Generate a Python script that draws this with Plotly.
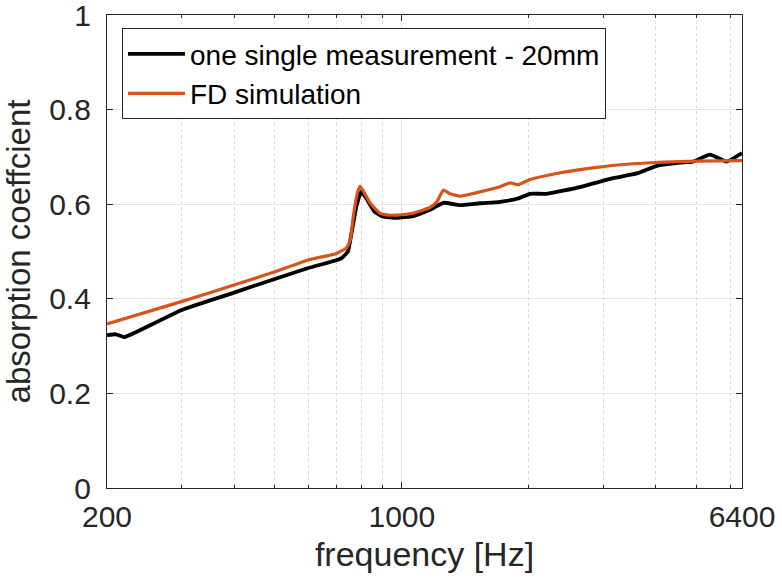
import plotly.graph_objects as go

# ---- data ----
freq_meas = [200, 210, 220, 235, 300, 400, 500, 600, 690, 720, 745, 760, 780, 800,
             820, 860, 900, 972, 1063, 1166, 1254, 1373, 1531, 1708, 1885, 2012,
             2204, 2643, 3165, 3602, 4018, 4563, 4897, 5375, 5886, 6400]
alpha_meas = [0.323, 0.325, 0.319, 0.330, 0.376, 0.413, 0.442, 0.465, 0.480, 0.486,
              0.500, 0.540, 0.595, 0.626, 0.615, 0.585, 0.574, 0.571, 0.575, 0.588,
              0.603, 0.598, 0.602, 0.605, 0.612, 0.622, 0.622, 0.636, 0.655, 0.665,
              0.681, 0.688, 0.690, 0.705, 0.690, 0.708]

freq_sim = [200, 300, 400, 500, 600, 700, 740, 755, 767, 785, 796, 810, 840, 887,
            930, 972, 1063, 1166, 1210, 1254, 1300, 1373, 1450, 1531, 1708, 1804,
            1885, 2012, 2328, 2895, 3472, 4159, 4995, 6400]
alpha_sim = [0.347, 0.394, 0.429, 0.457, 0.482, 0.496, 0.508, 0.525, 0.574, 0.625,
             0.638, 0.628, 0.603, 0.581, 0.577, 0.577, 0.581, 0.593, 0.605, 0.630,
             0.622, 0.617, 0.621, 0.626, 0.637, 0.645, 0.641, 0.652, 0.665, 0.678,
             0.685, 0.689, 0.691, 0.692]

x_ticks = [200, 1000, 6400]
x_ticktext = ["200", "1000", "6400"]
x_minor = [300, 400, 500, 600, 700, 800, 900, 2000, 3000, 4000, 5000, 6000]
y_ticks = [0, 0.2, 0.4, 0.6, 0.8, 1]
y_ticktext = ["0", "0.2", "0.4", "0.6", "0.8", "1"]

AX = "#262626"
FONT = "Liberation Sans, Arial, Helvetica, sans-serif"

fig = go.Figure()
fig.add_trace(go.Scatter(x=freq_meas, y=alpha_meas, mode="lines",
                         name="one single measurement - 20mm",
                         line=dict(color="#000000", width=3.8, shape="spline", smoothing=0.4)))
fig.add_trace(go.Scatter(x=freq_sim, y=alpha_sim, mode="lines",
                         name="FD simulation",
                         line=dict(color="#D95319", width=3.2, shape="spline", smoothing=0.4)))

fig.update_layout(
    width=782, height=582,
    margin=dict(l=107, r=40, t=15, b=94, autoexpand=False),
    paper_bgcolor="white", plot_bgcolor="white",
    font=dict(family=FONT, color=AX, size=28),
    showlegend=True,
    legend=dict(x=0.0236, y=0.972, xanchor="left", yanchor="top",
                bgcolor="white", bordercolor=AX, borderwidth=1,
                font=dict(size=28, color="#000000"),
                itemwidth=57, tracegroupgap=0),
)

fig.update_xaxes(
    type="log", range=[2.30103, 3.80618], automargin=False,
    tickmode="array", tickvals=x_ticks, ticktext=x_ticktext,
    ticks="inside", ticklen=6, tickcolor=AX, tickwidth=1,
    showline=True, linecolor=AX, linewidth=1.3, mirror="ticks",
    showgrid=True, gridcolor="#e3e3e3", gridwidth=1,
    tickfont=dict(size=30, color=AX), ticklabeloverflow="allow",
    ticklabelstandoff=2,
    minor=dict(tickmode="array", tickvals=x_minor, ticks="inside", ticklen=3,
               tickcolor=AX, showgrid=True, gridcolor="#d9d9d9",
               griddash="dot", gridwidth=1),
    title=dict(text="frequency [Hz]", font=dict(size=34, color=AX), standoff=10),
    zeroline=False,
)
fig.update_yaxes(
    range=[0, 1], automargin=False,
    tickmode="array", tickvals=y_ticks, ticktext=y_ticktext,
    ticks="inside", ticklen=6, tickcolor=AX, tickwidth=1,
    showline=True, linecolor=AX, linewidth=1.3, mirror="ticks",
    showgrid=True, gridcolor="#e3e3e3", gridwidth=1,
    tickfont=dict(size=30, color=AX), ticklabeloverflow="allow",
    ticklabelstandoff=9,
    title=dict(text="absorption coeffcient", font=dict(size=33, color=AX), standoff=8),
    zeroline=False,
)

fig.write_html("out.html", config={"displayModeBar": False},
               post_script="document.body.style.margin='0';document.body.style.overflow='hidden';")
